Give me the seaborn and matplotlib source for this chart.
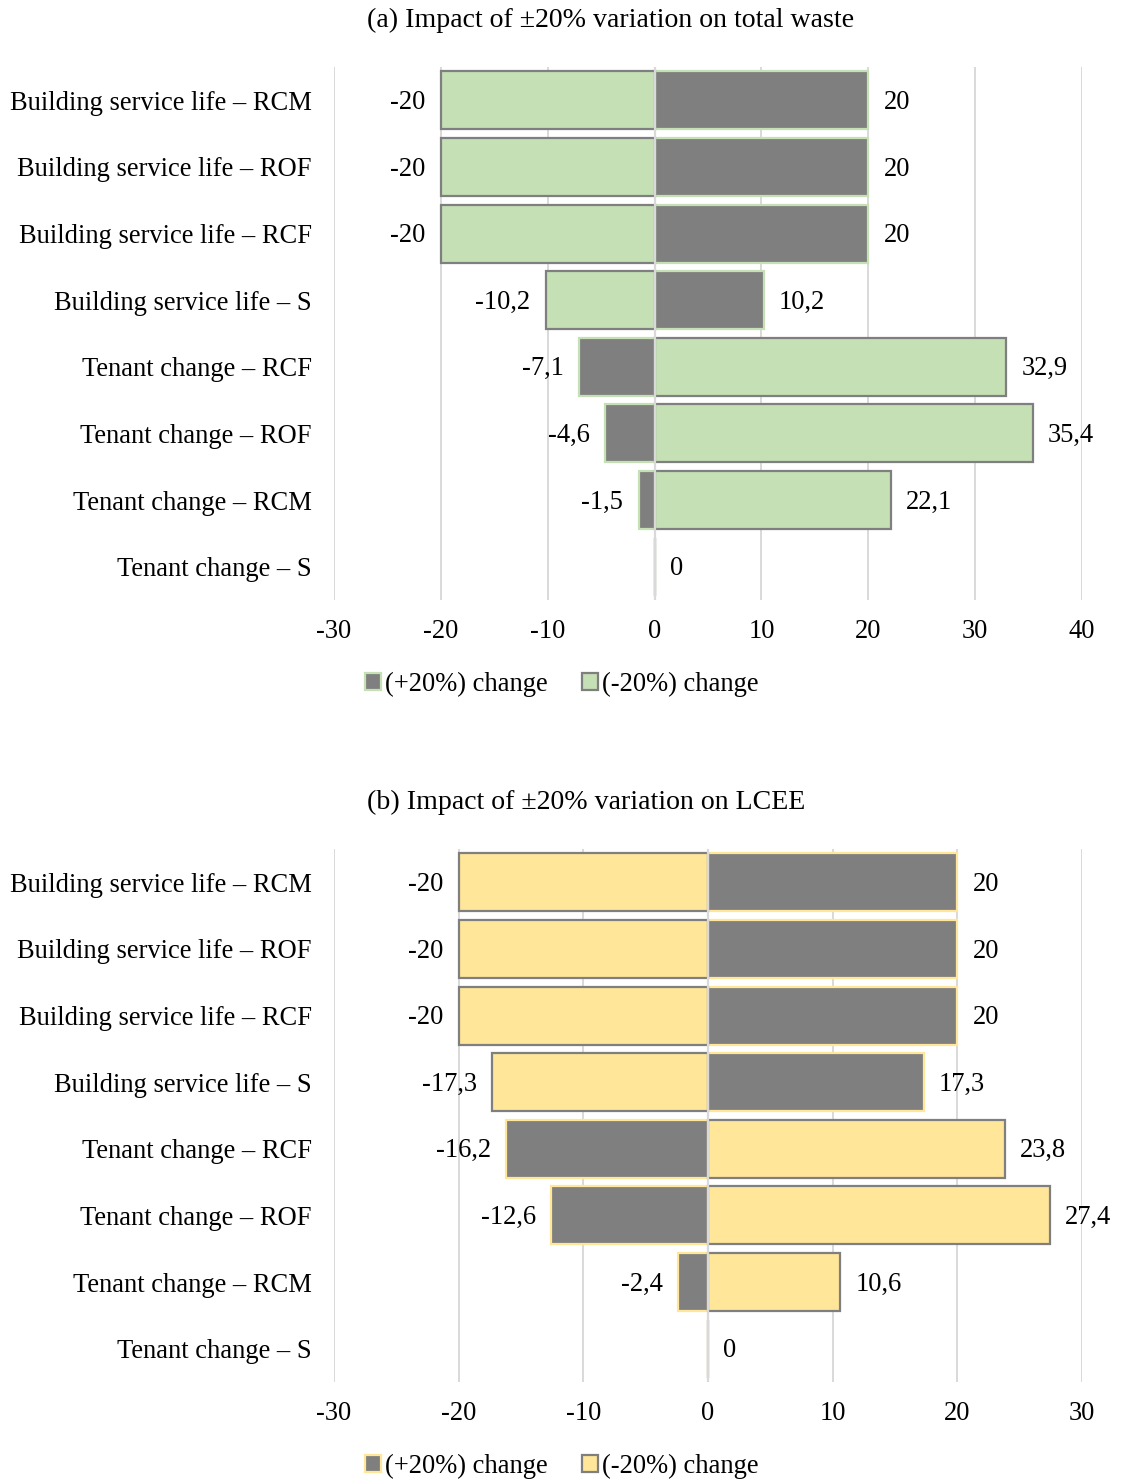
import matplotlib
matplotlib.use("Agg")
import matplotlib.pyplot as plt
from matplotlib.patches import Patch
import seaborn as sns

categories = [
    "Building service life – RCM",
    "Building service life – ROF",
    "Building service life – RCF",
    "Building service life – S",
    "Tenant change – RCF",
    "Tenant change – ROF",
    "Tenant change – RCM",
    "Tenant change – S",
]

# (a) total waste, % change for +20% and -20% of each parameter
waste_plus = [20, 20, 20, 10.2, -7.1, -4.6, -1.5, 0]
waste_minus = [-20, -20, -20, -10.2, 32.9, 35.4, 22.1, 0]

# (b) LCEE, % change for +20% and -20% of each parameter
lcee_plus = [20, 20, 20, 17.3, -16.2, -12.6, -2.4, 0]
lcee_minus = [-20, -20, -20, -17.3, 23.8, 27.4, 10.6, 0]

legend_labels = ["(+20%) change", "(-20%) change"]
titles = ["(a) Impact of \u00b120% variation on total waste",
          "(b) Impact of \u00b120% variation on LCEE"]

GRAY = "#7F7F7F"
GREEN = "#C5E0B4"
YELLOW = "#FFE699"
GRID = "#D9D9D9"
FS = 19.1
TITLE_FS = 20.1

sns.set_theme(style="white")
plt.rcParams["font.family"] = ["Liberation Serif", "DejaVu Serif"]
plt.rcParams["font.size"] = FS
plt.rcParams["axes.unicode_minus"] = False
plt.rcParams["text.color"] = "black"
plt.rcParams["xtick.color"] = "black"
plt.rcParams["ytick.color"] = "black"
plt.rcParams["xtick.labelcolor"] = "black"
plt.rcParams["ytick.labelcolor"] = "black"
plt.rcParams["legend.labelcolor"] = "black"

fig = plt.figure(figsize=(11.23, 14.8), dpi=100)

W, H = 1123, 1480


def fmt(v):
    s = f"{v:g}"
    return s.replace(".", ",")


def panel(rect, plus, minus, light, xlim, title, title_y, legend_y):
    ax = fig.add_axes(rect)
    ax.set_axisbelow(True)
    for vals, face, edge in ((plus, GRAY, light), (minus, light, GRAY)):
        sns.barplot(x=vals, y=categories, orient="h", ax=ax, color=face,
                    width=0.87, edgecolor=edge, linewidth=1.6, saturation=1)
    ax.set_xlim(*xlim)
    ax.set_ylim(len(categories) - 0.5, -0.5)
    ax.set_xticks(range(xlim[0], xlim[1] + 1, 10))
    ax.xaxis.grid(True, color=GRID, linewidth=1.4)
    ax.yaxis.grid(False)
    ax.axvline(0, color=GRID, linewidth=1.6, zorder=5)
    for s in ax.spines.values():
        s.set_visible(False)
    ax.tick_params(axis="x", length=0, pad=14, labelsize=FS,
                   labelcolor="black")
    ax.tick_params(axis="y", length=0, pad=16, labelsize=FS,
                   labelcolor="black")
    ax.set_xlabel("")
    ax.set_ylabel("")

    # value labels beside the bar ends
    for series, skip_zero in ((plus, True), (minus, False)):
        for i, v in enumerate(series):
            if v == 0 and skip_zero:
                continue
            off = 11 if v >= 0 else -11
            ax.annotate(fmt(v), xy=(v, i), xytext=(off, -1.5),
                        textcoords="offset points",
                        ha="left" if v >= 0 else "right", va="center",
                        fontsize=FS, color="black")

    fig.text(367 / W, 1 - title_y / H, title, ha="left", va="center",
             fontsize=TITLE_FS, color="black")
    handles = [Patch(facecolor=GRAY, edgecolor=light, linewidth=1.6),
               Patch(facecolor=light, edgecolor=GRAY, linewidth=1.6)]
    fig.legend(handles, legend_labels, loc="center",
               bbox_to_anchor=(562 / W, 1 - legend_y / H), ncol=2,
               frameon=False, fontsize=FS, handlelength=0.6,
               handleheight=0.6, handletextpad=0.15, columnspacing=1.3,
               labelcolor="black")
    return ax


left = 334 / W
width = (1082 - 334) / W
height = (600 - 67) / H

panel([left, 1 - 600 / H, width, height], waste_plus, waste_minus, GREEN,
      (-30, 40), titles[0], 20, 684)
panel([left, 1 - 1382 / H, width, height], lcee_plus, lcee_minus, YELLOW,
      (-30, 30), titles[1], 802, 1466)

fig.savefig("out.png", dpi=100)
